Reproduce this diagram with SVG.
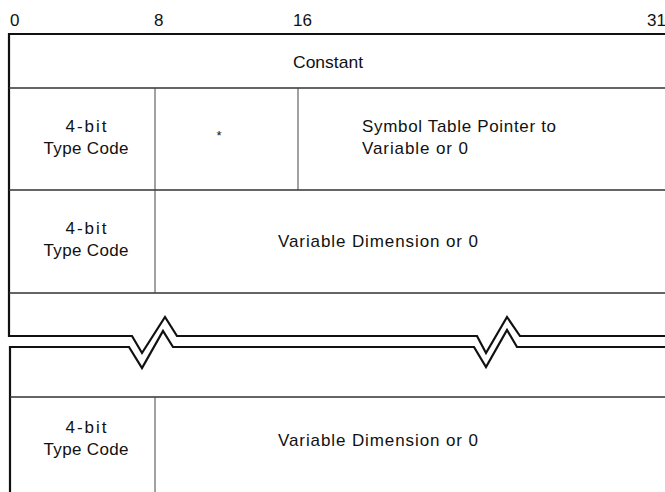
<svg xmlns="http://www.w3.org/2000/svg" width="665" height="492" viewBox="0 0 665 492">
<style>
text{font-family:"Liberation Sans",Arial,sans-serif;font-size:17px;fill:#111}
.c{text-anchor:middle}
.thick{stroke:#111;stroke-width:2.2;fill:none}
.row{stroke:#333;stroke-width:1.6;fill:none}
.thin{stroke:#444;stroke-width:1;fill:none}
</style>
<rect width="665" height="492" fill="#fff"/>
<g id="scale">
<text x="10" y="26">0</text>
<text x="154" y="26">8</text>
<text x="293" y="26">16</text>
<text x="647" y="26">31</text>
</g>
<g id="frame">
<path class="thick" d="M8,34 H665"/>
<path class="thick" d="M9,33 V336 H132 L142,353 L165,317 L177,336 H477 L486,353 L507,317 L520,336 H665"/>
<path class="thick" d="M10,492 V347 H129 L142,368 L163,331 L173,347 H474 L486,367 L507,330 L517,347 H665"/>
<path class="row" d="M9,88 H665 M9,190 H665 M9,293 H665 M10,397 H665"/>
<path class="thin" d="M155,88 V293 M298,88 V190 M155,397 V492"/>
</g>
<g id="row1">
<text class="c" x="328" y="68" textLength="70" lengthAdjust="spacingAndGlyphs">Constant</text>
</g>
<g id="row2">
<text class="c" x="86" y="132" textLength="41">4-bit</text>
<text class="c" x="86" y="154" textLength="85">Type Code</text>
<text class="c" x="219" y="140" style="font-size:13px">*</text>
<text x="362" y="132" textLength="194">Symbol Table Pointer to</text>
<text x="362" y="154" textLength="106">Variable or 0</text>
</g>
<g id="row3">
<text class="c" x="86" y="234" textLength="41">4-bit</text>
<text class="c" x="86" y="256" textLength="85">Type Code</text>
<text x="278" y="247" textLength="200">Variable Dimension or 0</text>
</g>
<g id="row5">
<text class="c" x="86" y="433" textLength="41">4-bit</text>
<text class="c" x="86" y="455" textLength="85">Type Code</text>
<text x="278" y="446" textLength="200">Variable Dimension or 0</text>
</g>
</svg>
